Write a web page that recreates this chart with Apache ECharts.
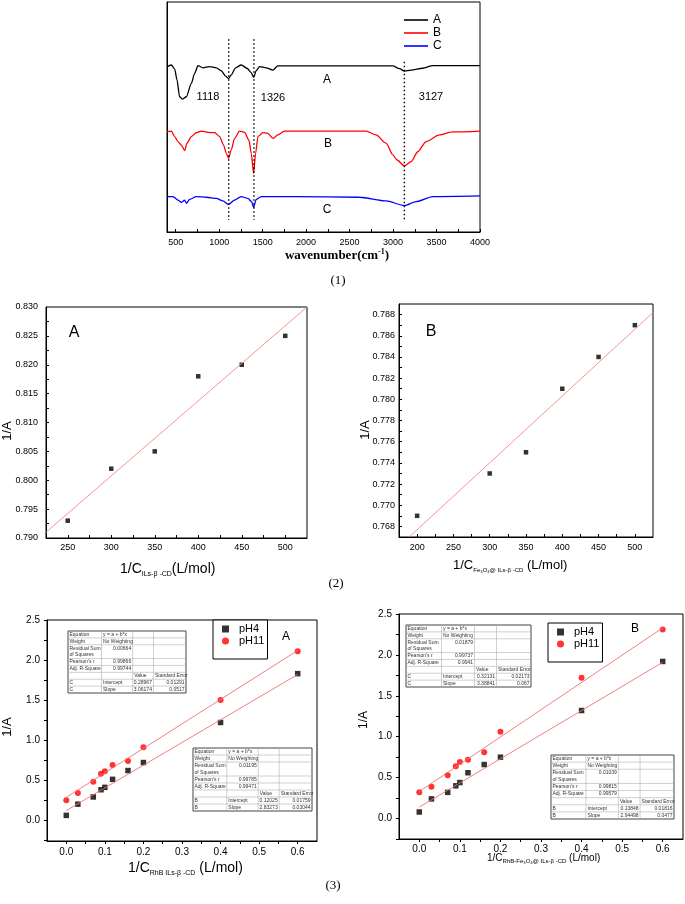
<!DOCTYPE html>
<html><head><meta charset="utf-8">
<script src="https://cdn.jsdelivr.net/npm/echarts@6/dist/echarts.min.js"></script>
<style>html,body{margin:0;padding:0;background:#fff}#c{width:685px;height:904px}</style>
</head><body><div id="c"></div>
<script>
// ---------- Panel (1): FTIR spectra [wavenumber, transmittance a.u.] ----------
const irA = [[400,71.9],[450,72.6],[488,70.9],[515,66.1],[545,58.8],[576,57.8],[622,58.8],[680,64.6],[718,69.0],[756,72.3],[814,71.4],[890,71.9],[967,71.4],[1024,70.1],[1074,67.8],[1108,66.7],[1139,68.3],[1189,71.4],[1254,72.6],[1319,71.2],[1369,69.3],[1396,67.2],[1426,70.1],[1465,71.9],[1541,71.4],[1618,70.4],[1675,72.2],[2000,72.2],[2500,72.2],[2997,72.2],[3074,71.0],[3131,70.0],[3208,70.4],[3342,71.2],[3456,72.3],[4000,72.3]];
const irB = [[400,43.6],[450,43.9],[488,41.5],[526,39.3],[565,37.8],[603,35.4],[630,38.6],[680,41.5],[737,43.2],[795,43.9],[871,43.3],[948,43.2],[1005,41.5],[1051,37.8],[1082,34.2],[1108,32.0],[1139,35.7],[1177,40.7],[1235,43.9],[1292,43.3],[1342,40.0],[1369,34.2],[1396,25.5],[1419,34.2],[1446,41.5],[1503,43.2],[1560,42.9],[1618,40.7],[1675,42.2],[1752,43.9],[2200,43.9],[2690,43.9],[2805,42.2],[2920,38.6],[2997,33.5],[3047,31.3],[3131,28.7],[3208,30.6],[3284,34.9],[3380,39.3],[3533,42.2],[3686,43.5],[4000,43.9]];
const irC = [[400,15.4],[469,15.4],[526,13.9],[565,12.9],[603,13.9],[622,12.5],[661,14.2],[737,15.4],[852,15.1],[967,14.6],[1043,13.5],[1108,12.0],[1177,13.9],[1254,15.4],[1331,14.6],[1373,13.2],[1396,10.7],[1426,14.2],[1484,15.4],[1848,15.4],[2614,15.1],[2920,13.5],[3131,11.5],[3265,13.2],[3456,15.4],[4000,15.7]];
const irNames = ['A','B','C'];
const guideX = [1110, 1400, 3130];
const guideTop = [83.8, 83.8, 74.0];
const guideBottom = [5.2, 5.2, 5.2];
const peakLabels = ['1118','1326','3127'];
const irTickValues = [500,750,1000,1250,1500,1750,2000,2250,2500,2750,3000,3250,3500,3750,4000];
const irLabelValues = [500,1000,1500,2000,2500,3000,3500,4000];

// ---------- Panel (2) ----------
const p2A_x = [250,300,350,400,450,500];
const p2A_y = [0.793,0.802,0.805,0.818,0.820,0.825];
const p2A_fit = [[225,0.791],[525,0.830]];
const p2A_xTicks = [250,275,300,325,350,375,400,425,450,475,500];
const p2A_xLabels = [250,300,350,400,450,500];
const p2A_yTicks = [0.7925,0.795,0.7975,0.8,0.8025,0.805,0.8075,0.81,0.8125,0.815,0.8175,0.82,0.8225,0.825,0.8275];
const p2A_yLabels = [0.79,0.795,0.8,0.805,0.81,0.815,0.82,0.825,0.83];

const p2B_x = [200,300,350,400,450,500];
const p2B_y = [0.769,0.773,0.775,0.781,0.784,0.787];
const p2B_fit = [[189,0.767],[525,0.7882]];
const p2B_xTicks = [200,225,250,275,300,325,350,375,400,425,450,475,500];
const p2B_xLabels = [200,250,300,350,400,450,500];
const p2B_yTicks = [0.768,0.769,0.77,0.771,0.772,0.773,0.774,0.775,0.776,0.777,0.778,0.779,0.78,0.781,0.782,0.783,0.784,0.785,0.786,0.787,0.788];
const p2B_yLabels = [0.768,0.77,0.772,0.774,0.776,0.778,0.78,0.782,0.784,0.786,0.788];

// ---------- Panel (3) ----------
const p3_x = [0,0.03,0.07,0.09,0.10,0.12,0.16,0.20,0.40,0.60];
const p3A_pH4 = [0.06,0.20,0.29,0.38,0.41,0.51,0.62,0.72,1.22,1.83];
const p3A_pH11 = [0.25,0.34,0.48,0.58,0.61,0.69,0.74,0.91,1.50,2.11];
const p3A_fit4 = [[0,0.12],[0.6,1.82]];
const p3A_fit11 = [[0,0.285],[0.6,2.12]];
const p3B_pH4 = [0.08,0.24,0.32,0.40,0.44,0.56,0.66,0.75,1.32,1.92];
const p3B_pH11 = [0.32,0.39,0.53,0.64,0.69,0.72,0.81,1.06,1.72,2.31];
const p3B_fit4 = [[0,0.14],[0.6,1.91]];
const p3B_fit11 = [[0,0.33],[0.6,2.33]];
const p3_xTicks = [0,0.05,0.1,0.15,0.2,0.25,0.3,0.35,0.4,0.45,0.5,0.55,0.6];
const p3_xLabels = [0,0.1,0.2,0.3,0.4,0.5,0.6];
const p3_yTicks = [-0.25,0,0.25,0.5,0.75,1,1.25,1.5,1.75,2,2.25,2.5];
const p3_yLabels = [0,0.5,1,1.5,2,2.5];
const p3_legend = ['pH4','pH11'];

// fit report tables
const tblA_top = [['Equation','y = a + b*x','',''],['Weight','No Weighting','',''],['Residual Sum\nof Squares','0.00664','',''],["Pearson's r",'0.99866','',''],['Adj. R-Square','0.99744','',''],['','','Value','Standard Error'],['C','Intercept','0.28967','0.01291'],['C','Slope','3.06174','0.0517']];
const tblA_bot = [['Equation','y = a + b*x','',''],['Weight','No Weighting','',''],['Residual Sum\nof Squares','0.01195','',''],["Pearson's r",'0.99785','',''],['Adj. R-Square','0.99471','',''],['','','Value','Standard Error'],['B','Intercept','0.12025','0.01759'],['B','Slope','2.83273','0.03044']];
const tblB_top = [['Equation','y = a + b*x','',''],['Weight','No Weighting','',''],['Residual Sum\nof Squares','0.01879','',''],["Pearson's r",'0.99737','',''],['Adj. R-Square','0.9941','',''],['','','Value','Standard Error'],['C','Intercept','0.32131','0.02173'],['C','Slope','3.38841','0.067']];
const tblB_bot = [['Equation','y = a + b*x','',''],['Weight','No Weighting','',''],['Residual Sum\nof Squares','0.01039','',''],["Pearson's r",'0.99815','',''],['Adj. R-Square','0.99579','',''],['','','Value','Standard Error'],['B','Intercept','0.13848','0.01816'],['B','Slope','2.94498','0.0477']];

// ================= build =================
const SANS = 'Liberation Sans, Arial, sans-serif';
const SERIF = 'Liberation Serif, Times New Roman, serif';
const zip = (xs, ys) => xs.map((x, i) => [x, ys[i]]);

function axis(gridIndex, min, max, ticks, labels, fmt, inside, fontSize, margin) {
  return {
    type: 'value', gridIndex, min, max,
    axisLine: { show: true, onZero: false, lineStyle: { color: '#000', width: 1 } },
    axisTick: { show: ticks.length > 0, inside, length: 3, customValues: ticks, lineStyle: { color: '#000', width: 1 } },
    axisLabel: { show: labels.length > 0, customValues: labels, formatter: fmt, fontSize, margin, color: '#000', fontFamily: SANS },
    splitLine: { show: false }
  };
}
const f1 = v => v.toFixed(1), f3 = v => v.toFixed(3), f0 = v => String(Math.round(v));

const grids = [
  { left: 167, top: 2, width: 313, height: 230 },
  { left: 46, top: 307, width: 261, height: 231 },
  { left: 399, top: 304, width: 254, height: 233 },
  { left: 47, top: 620, width: 270, height: 221 },
  { left: 399, top: 614, width: 284, height: 225 }
].map(g => Object.assign(g, { show: true, borderColor: '#000', borderWidth: 1, backgroundColor: 'transparent' }));

const xAxes = [
  axis(0, 400, 4000, irTickValues, irLabelValues, f0, true, 9, 6),
  axis(1, 225, 525, p2A_xTicks, p2A_xLabels, f0, true, 9, 5),
  axis(2, 175, 525, p2B_xTicks, p2B_xLabels, f0, true, 9, 6),
  axis(3, -0.05, 0.65, p3_xTicks, p3_xLabels, f1, false, 10, 6),
  axis(4, -0.05, 0.65, p3_xTicks, p3_xLabels, f1, false, 10, 5)
];
const yAxes = [
  axis(0, 0, 100, [], [], f0, true, 9, 6),
  axis(1, 0.79, 0.83, p2A_yTicks, p2A_yLabels, f3, true, 9, 8),
  axis(2, 0.767, 0.789, p2B_yTicks, p2B_yLabels, f3, true, 9, 4),
  axis(3, -0.26, 2.5, p3_yTicks, p3_yLabels, f1, false, 10, 7),
  axis(4, -0.25, 2.5, p3_yTicks, p3_yLabels, f1, false, 10, 7)
];

const series = [];
const irData = [irA, irB, irC];
const irColors = ['#000000', '#ff0000', '#0000ff'];
irData.forEach((d, i) => series.push({
  type: 'line', name: irNames[i], xAxisIndex: 0, yAxisIndex: 0, data: d,
  symbol: 'none', smooth: 0.25, smoothMonotone: 'x',
  lineStyle: { color: irColors[i], width: 1.3 }, itemStyle: { color: irColors[i] }
}));
guideX.forEach((gx, i) => series.push({
  type: 'line', xAxisIndex: 0, yAxisIndex: 0, silent: true, symbol: 'none',
  data: [[gx, guideTop[i]], [gx, guideBottom[i]]],
  lineStyle: { color: '#000', width: 1.4, type: [1.4, 2.6] }
}));

function fitLine(gi, data, color) {
  return { type: 'line', xAxisIndex: gi, yAxisIndex: gi, data, symbol: 'none', silent: true,
    lineStyle: { color, width: 0.9 } };
}
function scatter(gi, name, data, symbol, size, color) {
  return { type: 'scatter', name, xAxisIndex: gi, yAxisIndex: gi, data, symbol, symbolSize: size,
    itemStyle: { color } };
}
series.push(fitLine(1, p2A_fit, '#f28a8a'));
series.push(scatter(1, 'A data', zip(p2A_x, p2A_y), 'rect', 4.5, '#000'));
series.push(fitLine(2, p2B_fit, '#f28a8a'));
series.push(scatter(2, 'B data', zip(p2B_x, p2B_y), 'rect', 4.5, '#000'));

series.push(fitLine(3, p3A_fit4, '#f07070'));
series.push(fitLine(3, p3A_fit11, '#f07070'));
series.push(scatter(3, 'pH4', zip(p3_x, p3A_pH4), 'rect', 5.5, '#000'));
series.push(scatter(3, 'pH11', zip(p3_x, p3A_pH11), 'circle', 6, '#ff0000'));
series.push(fitLine(4, p3B_fit4, '#f07070'));
series.push(fitLine(4, p3B_fit11, '#f07070'));
series.push(scatter(4, 'pH4', zip(p3_x, p3B_pH4), 'rect', 5.5, '#000'));
series.push(scatter(4, 'pH11', zip(p3_x, p3B_pH11), 'circle', 6, '#ff0000'));

// ---------- graphic: texts and tables ----------
const graphic = [];
function txt(x, y, text, size, opts) {
  opts = opts || {};
  const el = {
    type: 'text', x, y, rotation: opts.rotation || 0, silent: true, z: 100,
    style: {
      text, fill: '#000', fontSize: size, fontFamily: opts.family || SANS, fontWeight: opts.weight || 'normal',
      textAlign: opts.align || 'center', align: opts.align || 'center',
      textVerticalAlign: 'middle', verticalAlign: 'middle', lineHeight: opts.lineHeight || size + 2,
      rich: opts.rich
    }
  };
  graphic.push(el);
}
function subTitle(x, y, main1, sub, main2, size, subSize) {
  const rich = {
    m: { fontSize: size, fontFamily: SANS, fill: '#000', lineHeight: size + 3 },
    s: { fontSize: subSize, fontFamily: SANS, fill: '#000', verticalAlign: 'bottom', lineHeight: subSize }
  };
  txt(x, y, '{m|' + main1 + '}{s|' + sub + '}{m|' + main2 + '}', size, { align: 'left', rich, lineHeight: size + 3 });
}

// panel 1
peakLabels.forEach((t, i) => txt([208, 273, 431][i], [97, 98, 97][i], t, 11));
irNames.forEach((t, i) => txt([327, 328, 327][i], [80, 144, 210][i], t, 12));
txt(337, 256, '{b|wavenumber(cm}{p|-1}{b|)}', 13, {
  rich: {
    b: { fontSize: 13, fontFamily: SERIF, fontWeight: 'bold', fill: '#000', lineHeight: 16 },
    p: { fontSize: 8, fontFamily: SERIF, fontWeight: 'bold', fill: '#000', verticalAlign: 'top', lineHeight: 8 }
  }, lineHeight: 16 });
txt(338, 281, '(1)', 13, { family: SERIF });

// panel 2
txt(74, 333, 'A', 16);
txt(7, 431, '1/A', 13, { rotation: Math.PI / 2 });
subTitle(120, 569, '1/C', 'ILs-β -CD', '(L/mol)', 14, 7);
txt(431, 332, 'B', 16);
txt(365, 430, '1/A', 13, { rotation: Math.PI / 2 });
subTitle(453, 565, '1/C', 'Fe₃O₄@ ILs-β -CD', ' (L/mol)', 13, 6);
txt(336, 584, '(2)', 13, { family: SERIF });

// panel 3
txt(286, 637, 'A', 12);
txt(7, 727, '1/A', 13, { rotation: Math.PI / 2 });
subTitle(128, 868, '1/C', 'RhB ILs-β -CD', ' (L/mol)', 14, 7);
txt(635, 629, 'B', 12);
txt(364, 720, '1/A', 12, { rotation: Math.PI / 2 });
subTitle(487, 858, '1/C', 'RhB-Fe₃O₄@ ILs-β -CD', ' (L/mol)', 10, 6);
txt(333, 886, '(3)', 13, { family: SERIF });

function table(x0, y0, w, h, rows) {
  const units = [1, 1, 2, 1, 1, 1, 1, 1];
  const colF = [0.284, 0.264, 0.176, 0.276];
  const uh = h / units.reduce((a, b) => a + b, 0);
  const colX = [x0];
  colF.forEach(f => colX.push(colX[colX.length - 1] + f * w));
  const rowY = [y0];
  units.forEach(u => rowY.push(rowY[rowY.length - 1] + u * uh));
  graphic.push({ type: 'rect', silent: true, z: 90, shape: { x: x0, y: y0, width: w, height: h },
    style: { fill: '#fff', stroke: '#444', lineWidth: 1 } });
  for (let r = 1; r < rowY.length - 1; r++)
    graphic.push({ type: 'line', silent: true, z: 91, shape: { x1: x0, y1: rowY[r], x2: x0 + w, y2: rowY[r] }, style: { stroke: '#b0b0b0', lineWidth: 0.6 } });
  for (let c = 1; c < colX.length - 1; c++)
    graphic.push({ type: 'line', silent: true, z: 91, shape: { x1: colX[c], y1: y0, x2: colX[c], y2: y0 + h }, style: { stroke: '#b0b0b0', lineWidth: 0.6 } });
  rows.forEach((row, r) => {
    row.forEach((t, c) => {
      if (!t) return;
      let right = false;
      if (c === 1) right = r >= 2 && r <= 4;
      if (c >= 2) right = r !== 5;
      const yy = (r === 2 && c > 0) ? rowY[r] + uh / 2 : (rowY[r] + rowY[r + 1]) / 2;
      graphic.push({ type: 'text', silent: true, z: 92, x: right ? colX[c + 1] - 1.5 : colX[c] + 1.5, y: yy,
        style: { text: t, fill: '#333', fontSize: 5, fontFamily: SANS, lineHeight: uh * 0.95,
          textAlign: right ? 'right' : 'left', align: right ? 'right' : 'left',
          textVerticalAlign: 'middle', verticalAlign: 'middle' } });
    });
  });
}
table(68, 631, 118, 62, tblA_top);
table(193, 748, 119, 63, tblA_bot);
table(406, 625, 125, 62, tblB_top);
table(551, 755, 123, 64, tblB_bot);

const legends = [
  { data: irNames, left: 404, top: 14, orient: 'vertical', icon: 'rect', itemWidth: 24, itemHeight: 1.6, itemGap: 1, padding: 0,
    selectedMode: false, textStyle: { fontSize: 12, lineHeight: 12, fontFamily: SANS, color: '#000' } },
  { data: p3_legend, left: 213, top: 620, orient: 'vertical', itemWidth: 7, itemHeight: 7, itemGap: 0, padding: [3, 3, 12, 9],
    borderColor: '#000', borderWidth: 1, backgroundColor: '#fff', selectedMode: false,
    textStyle: { fontSize: 11, lineHeight: 12, fontFamily: SANS, color: '#000', padding: [0, 0, 0, 5] } },
  { data: p3_legend, left: 548, top: 623, orient: 'vertical', itemWidth: 7, itemHeight: 7, itemGap: 0, padding: [3, 3, 12, 9],
    borderColor: '#000', borderWidth: 1, backgroundColor: '#fff', selectedMode: false,
    textStyle: { fontSize: 11, lineHeight: 12, fontFamily: SANS, color: '#000', padding: [0, 0, 0, 5] } }
];

const chart = echarts.init(document.getElementById('c'), null, { renderer: 'canvas', width: 685, height: 904 });
chart.setOption({
  animation: false,
  backgroundColor: '#fff',
  textStyle: { fontFamily: SANS },
  grid: grids, xAxis: xAxes, yAxis: yAxes, series, legend: legends, graphic
});
</script></body></html>
